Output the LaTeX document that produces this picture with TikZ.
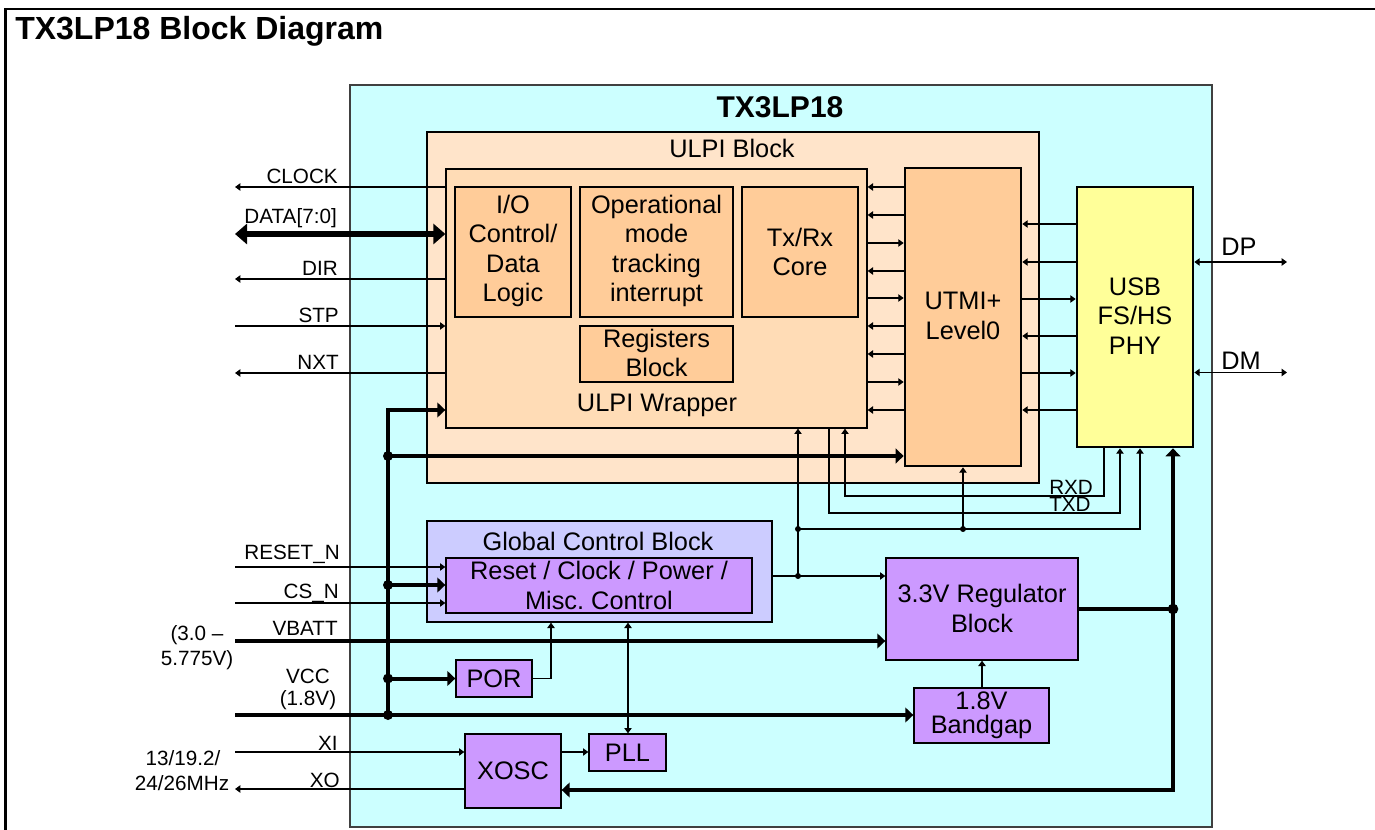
\documentclass[tikz,border=0pt]{standalone}
\usepackage{fontspec}
\setmainfont{Liberation Sans}
\usetikzlibrary{arrows.meta,fit}
\definecolor{cyanbg}{HTML}{CCFFFF}
\definecolor{ulpiA}{HTML}{FFE4CA}
\definecolor{ulpiW}{HTML}{FFDCB6}
\definecolor{peach}{HTML}{FFCC99}
\definecolor{lav}{HTML}{CCCCFF}
\definecolor{purp}{HTML}{CC99FF}
\definecolor{yel}{HTML}{FFFF99}
\frenchspacing
\begin{document}
\begin{tikzpicture}[x=0.75pt,y=-0.75pt,
  lbl/.style={font=\fontsize{15.5}{18}\selectfont, inner sep=0pt},
  btxt/.style={font=\fontsize{19}{22.2}\selectfont, align=center, inner sep=0pt},
  boxA/.style={draw=black, line width=1pt, inner sep=0pt},
  boxB/.style={draw=black, line width=2pt, inner sep=0pt},
  sig/.style={line width=0.9pt},
  bus/.style={line width=3pt},
  arrowS/.style={-{Triangle[length=4pt,width=5.5pt]}},
  arrowSS/.style={{Triangle[length=4pt,width=5.5pt]}-{Triangle[length=4pt,width=5.5pt]}},
  arrowB/.style={-{Triangle[length=6pt,width=11pt]}},
  arrowBB/.style={{Triangle[length=6pt,width=11pt]}-{Triangle[length=6pt,width=11pt]}},
  jdot/.style={circle, fill=black, inner sep=0pt, minimum size=4.5pt},
  bdot/.style={circle, fill=black, inner sep=0pt, minimum size=7.5pt}
]
\useasboundingbox (0,0) rectangle (1375,830);
% outer frame
\draw[line width=1.8pt] (5.5,831) -- (5.5,9) -- (1376,9);
\node[anchor=base west, font=\bfseries\fontsize{24}{28}\selectfont, inner sep=0pt] (title) at (15,39.5) {TX3LP18 Block Diagram};

% chip
\node[fit={(350,85) (1212,827)}, inner sep=0pt, draw=black!75, line width=1.1pt, fill=cyanbg] (chip) {};
\node[anchor=base, font=\bfseries\fontsize{22.5}{26}\selectfont, inner sep=0pt] (chipname) at (780,118) {TX3LP18};

% ULPI block
\node[fit={(427,132) (1039,483)}, boxB, fill=ulpiA] (ulpi) {};
\node[btxt, anchor=base] (ulpit) at (732,157.5) {ULPI Block};
\node[fit={(446,169) (867,428)}, boxA, fill=ulpiW] (wrap) {};
\node[btxt, anchor=base] (wrapt) at (657,411.5) {ULPI Wrapper};
\node[fit={(455,187) (571,317)}, boxA, line width=1.2pt, fill=peach] (io) {};
\node[btxt] (iot) at (513,251) {I/O\\Control/\\Data\\Logic};
\node[fit={(580,187) (733,317)}, boxA, line width=1.2pt, fill=peach] (opm) {};
\node[btxt] (opmt) at (656.5,251) {Operational\\mode\\tracking\\interrupt};
\node[fit={(742,187) (858,317)}, boxA, line width=1.2pt, fill=peach] (txrx) {};
\node[btxt] (txrxt) at (800,252) {Tx/Rx\\Core};
\node[fit={(580,326) (733,382)}, boxA, line width=1.2pt, fill=peach] (regs) {};
\node[btxt] (regst) at (656.5,353) {Registers\\Block};
\node[fit={(905,168) (1021,466)}, boxB, fill=peach] (utmi) {};
\node[btxt] (utmit) at (963,316) {UTMI+\\Level0};
\node[fit={(1077,187) (1193,447)}, boxB, fill=yel] (phy) {};
\node[btxt] (phyt) at (1135,316) {USB\\FS/HS\\PHY};

% global control
\node[fit={(427,521) (772,622)}, boxA, fill=lav] (gcb) {};
\node[btxt, anchor=base] (gcbt) at (598,550.5) {Global Control Block};
\node[fit={(446,558) (752,613)}, boxA, fill=purp] (rst) {};
\node[btxt] (rstt) at (599,585.5) {Reset / Clock / Power /\\Misc. Control};
\node[fit={(886,558) (1078,660)}, boxA, fill=purp] (reg) {};
\node[btxt] (regt) at (982,608.5) {3.3V Regulator\\Block};
\node[fit={(914,688) (1049,743)}, boxA, fill=purp] (bg) {};
\node[btxt, font=\fontsize{19}{18}\selectfont] (bgt) at (981.5,715) {1.8V\\Bandgap};
\node[fit={(456,660) (532,697)}, boxA, fill=purp] (por) {};
\node[btxt] (port) at (494,678.5) {POR};
\node[fit={(589,734) (666,771)}, boxA, fill=purp] (pll) {};
\node[btxt] (pllt) at (627.5,752.5) {PLL};
\node[fit={(465,734) (561,808)}, boxA, fill=purp] (xosc) {};
\node[btxt] (xosct) at (513,771) {XOSC};

% left side pins
\coordinate (Lclk) at (235,187);
\coordinate (Ldat) at (235,234);
\coordinate (Ldir) at (235,279);
\coordinate (Lstp) at (235,326);
\coordinate (Lnxt) at (235,373);
\coordinate (Lrst) at (235,567);
\coordinate (Lcs) at (235,603);
\coordinate (Lvb) at (235,641);
\coordinate (Lvcc) at (235,715);
\coordinate (Lxi) at (235,752);
\coordinate (Lxo) at (235,789);

\draw[sig, arrowS] (wrap.west |- Lclk) -- (Lclk);
\draw[line width=4.5pt, {Triangle[length=9pt,width=15pt]}-{Triangle[length=9pt,width=15pt]}] (Ldat) -- (wrap.west |- Ldat);
\draw[sig, arrowS] (wrap.west |- Ldir) -- (Ldir);
\draw[sig, arrowS] (Lstp) -- (wrap.west |- Lstp);
\draw[sig, arrowS] (wrap.west |- Lnxt) -- (Lnxt);

\node[lbl, anchor=base east] at (338,183.5) {CLOCK};
\node[lbl, anchor=base east] at (337,224) {DATA[7:0]};
\node[lbl, anchor=base east] at (338,275.5) {DIR};
\node[lbl, anchor=base east] at (339,322.5) {STP};
\node[lbl, anchor=base east] at (339,369.5) {NXT};

% bus
\coordinate (bT) at (388,410);
\coordinate (bU) at (388,456);
\coordinate (bR) at (388,585);
\coordinate (bP) at (388,678.5);
\coordinate (bB) at (388,715);
\draw[bus, arrowB] (bB) -- (bT) -- (wrap.west |- bT);
\draw[bus, arrowB] (bU) -- (utmi.west |- bU);
\draw[bus, arrowB] (bR) -- (rst.west |- bR);
\draw[bus, arrowB] (bP) -- (por.west |- bP);

\draw[sig, arrowS] (Lrst) -- (rst.west |- Lrst);
\draw[sig, arrowS] (Lcs) -- (rst.west |- Lcs);
\draw[bus, arrowB] (Lvb) -- (reg.west |- Lvb);
\draw[bus, arrowB] (Lvcc) -- (bg.west |- Lvcc);
\draw[sig, arrowS] (Lxi) -- (xosc.west |- Lxi);
\draw[sig, arrowS] (xosc.west |- Lxo) -- (Lxo);
\draw[sig, arrowS] (xosc.east |- Lxi) -- (pll.west |- Lxi);

\node[bdot] at (bU) {};
\node[bdot] at (bR) {};
\node[bdot] at (bP) {};
\node[bdot] at (bB) {};

\node[lbl, anchor=base east] at (340,560) {RESET\_N};
\node[lbl, anchor=base east] at (339,598) {CS\_N};
\node[lbl, anchor=base east] at (338,635) {VBATT};
\node[lbl, anchor=base] at (197,640) {(3.0 –};
\node[lbl, anchor=base] at (197,665) {5.775V)};
\node[lbl, anchor=base] at (308,683) {VCC};
\node[lbl, anchor=base] at (308,705) {(1.8V)};
\node[lbl, anchor=base east] at (338,750) {XI};
\node[lbl, anchor=base east] at (340,787) {XO};
\node[lbl, anchor=base] at (183,765) {13/19.2/};
\node[lbl, anchor=base] at (182,790) {24/26MHz};

% wrapper <-> UTMI
\foreach \yy in {187,215,271,326,354,410}
  \draw[sig, arrowS] (utmi.west |- 0,\yy) -- (wrap.east |- 0,\yy);
\foreach \yy in {243,298,382}
  \draw[sig, arrowS] (wrap.east |- 0,\yy) -- (utmi.west |- 0,\yy);
% UTMI <-> PHY
\foreach \yy in {224,262,336,410}
  \draw[sig, arrowS] (phy.west |- 0,\yy) -- (utmi.east |- 0,\yy);
\foreach \yy in {299,373}
  \draw[sig, arrowS] (utmi.east |- 0,\yy) -- (phy.west |- 0,\yy);

% DP / DM
\coordinate (Rdp) at (1287,262);
\coordinate (Rdm) at (1287,372.5);
\draw[sig, arrowSS] (phy.east |- Rdp) -- (Rdp);
\draw[sig, arrowSS] (phy.east |- Rdm) -- (Rdm);
\node[btxt, anchor=base west] at (1221,256) {DP};
\node[btxt, anchor=base west] at (1221,370) {DM};

% global control -> regulator and control lines
\coordinate (j1) at (798,576);
\coordinate (j2) at (798,529);
\coordinate (j3) at (963,529);
\coordinate (cA) at (1140,529);
\draw[sig, arrowS] (gcb.east |- j1) -- (reg.west |- j1);
\draw[sig, arrowS] (j1) -- (j1 |- wrap.south);
\draw[sig, arrowS] (j2) -- (cA) -- (cA |- phy.south);
\draw[sig, arrowS] (j3) -- (j3 |- utmi.south);
\node[jdot] at (j1) {};
\node[jdot] at (j2) {};
\node[jdot] at (j3) {};

% TXD
\coordinate (t1) at (829,513);
\coordinate (t2) at (1120,513);
\draw[sig, arrowS] (t1 |- wrap.south) -- (t1) -- (t2) -- (t2 |- phy.south);
% RXD
\coordinate (r1) at (1104,496);
\coordinate (r2) at (845,496);
\draw[sig, arrowS] (r1 |- phy.south) -- (r1) -- (r2) -- (r2 |- wrap.south);
\node[lbl, anchor=base west] at (1049,494) {RXD};
\node[lbl, anchor=base west] at (1049,512) {TXD};

% POR and PLL
\coordinate (pT) at (551,678.5);
\draw[sig, arrowS] (por.east |- pT) -- (pT) -- (pT |- gcb.south);
\coordinate (pl) at (628,752);
\draw[sig, arrowSS] (pl |- pll.north) -- (pl |- gcb.south);

% regulator output
\coordinate (vT) at (1173,609);
\coordinate (vB) at (1173,790);
\draw[bus] (reg.east |- vT) -- (vT);
\draw[bus, arrowBB] (xosc.east |- vB) -- (vB) -- (vT |- phy.south);
\node[bdot, minimum size=8pt] at (vT) {};

% bandgap -> regulator
\coordinate (bgx) at (982,700);
\draw[sig, arrowS] (bgx |- bg.north) -- (bgx |- reg.south);
\end{tikzpicture}
\end{document}
